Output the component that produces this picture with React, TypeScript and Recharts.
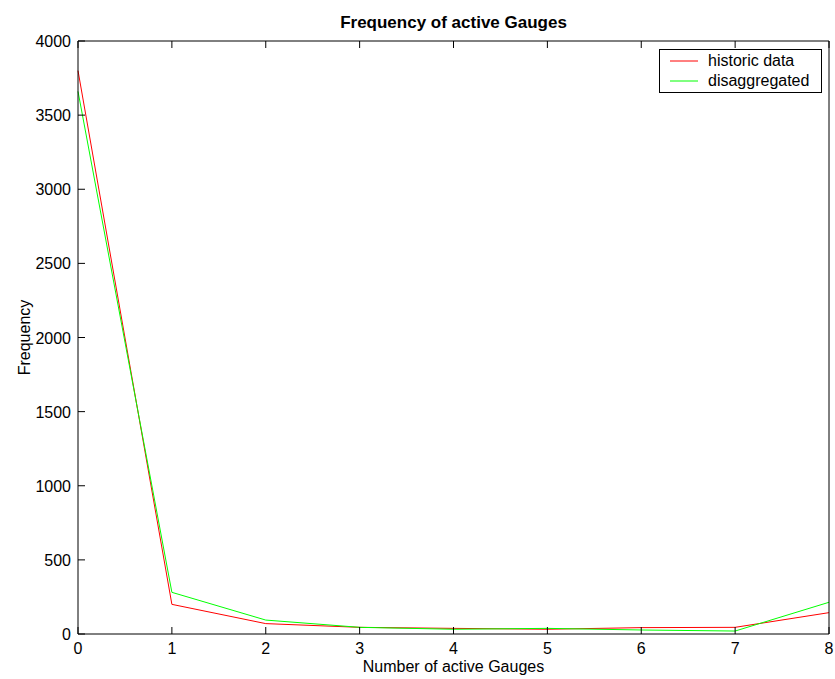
import { Legend, Line, LineChart, XAxis, YAxis } from "recharts";

const gauges = [0, 1, 2, 3, 4, 5, 6, 7, 8];
const historicData = [3800, 200, 70, 45, 38, 32, 43, 45, 144];
const disaggregated = [3660, 281, 94, 45, 32, 38, 27, 20, 214];
const xTicks = [0, 1, 2, 3, 4, 5, 6, 7, 8];
const yTicks = [0, 500, 1000, 1500, 2000, 2500, 3000, 3500, 4000];

const seriesInfo = [
  { key: "historic", name: "historic data", color: "#ff0000" },
  { key: "disagg", name: "disaggregated", color: "#00ff00" },
];

const rows = gauges.map((g, i) => ({
  gauges: g,
  historic: historicData[i],
  disagg: disaggregated[i],
}));

const FONT = "'Liberation Sans', Arial, Helvetica, sans-serif";
const TICK_LEN = 7;

// ticks point inwards, like the reference
const BottomTick = (props: any) => {
  const { x, y, payload } = props;
  return (
    <g>
      <line x1={x} y1={y} x2={x} y2={y - TICK_LEN} stroke="#000" />
      <text x={x} y={y + 20} textAnchor="middle" fontSize={16} fontFamily={FONT} fill="#000">
        {payload.value}
      </text>
    </g>
  );
};

const TopTick = (props: any) => {
  const { x, y } = props;
  return <line x1={x} y1={y} x2={x} y2={y + TICK_LEN} stroke="#000" />;
};

const LeftTick = (props: any) => {
  const { x, y, payload } = props;
  return (
    <g>
      <line x1={x} y1={y} x2={x + TICK_LEN} y2={y} stroke="#000" />
      <text x={x - 7} y={y} dy={6} textAnchor="end" fontSize={16} fontFamily={FONT} fill="#000">
        {payload.value}
      </text>
    </g>
  );
};

const RightTick = (props: any) => {
  const { x, y } = props;
  return <line x1={x} y1={y} x2={x - TICK_LEN} y2={y} stroke="#000" />;
};

const LegendBox = () => (
  <div
    style={{
      border: "1px solid #000",
      background: "#fff",
      padding: "1px 0 1px 10px",
      fontFamily: FONT,
      fontSize: 16,
      lineHeight: "20px",
      boxSizing: "border-box",
      width: 163,
    }}
  >
    {seriesInfo.map((s) => (
      <div key={s.key} style={{ display: "flex", alignItems: "center" }}>
        <svg width={38} height={20}>
          <line x1={0} y1={10} x2={28} y2={10} stroke={s.color} strokeWidth={1} />
        </svg>
        <span>{s.name}</span>
      </div>
    ))}
  </div>
);

const App = () => {
  return (
    <div style={{ position: "absolute", left: 0, top: 0, width: 835, height: 679, background: "#fff" }}>
      <div
        style={{
          position: "absolute",
          left: 78,
          width: 751,
          top: 13,
          textAlign: "center",
          fontFamily: FONT,
          fontWeight: "bold",
          fontSize: 17,
          lineHeight: "20px",
        }}
      >
        Frequency of active Gauges
      </div>
      <LineChart
        width={835}
        height={679}
        data={rows}
        margin={{ top: 40, right: 5, bottom: 0, left: 0 }}
      >
        <XAxis
          dataKey="gauges"
          type="number"
          domain={[0, 8]}
          ticks={xTicks}
          interval={0}
          height={45}
          tickSize={0}
          tickMargin={0}
          tickLine={false}
          axisLine={{ stroke: "#000" }}
          tick={<BottomTick />}
          label={{
            value: "Number of active Gauges",
            position: "insideBottom",
            offset: 7,
            fontSize: 16,
            fontFamily: FONT,
            fill: "#000",
          }}
        />
        <XAxis
          xAxisId="top"
          orientation="top"
          dataKey="gauges"
          type="number"
          domain={[0, 8]}
          ticks={xTicks}
          interval={0}
          height={1}
          tickSize={0}
          tickMargin={0}
          tickLine={false}
          axisLine={{ stroke: "#000" }}
          tick={<TopTick />}
        />
        <YAxis
          type="number"
          domain={[0, 4000]}
          ticks={yTicks}
          interval={0}
          width={78}
          tickSize={0}
          tickMargin={0}
          tickLine={false}
          axisLine={{ stroke: "#000" }}
          tick={<LeftTick />}
          label={{
            value: "Frequency",
            angle: -90,
            position: "insideLeft",
            content: (p: any) => {
              const vb = p.viewBox || { x: 0, y: 0, height: 0 };
              const cx = 24;
              const cy = vb.y + vb.height / 2;
              return (
                <text
                  x={cx}
                  y={cy}
                  transform={`rotate(-90, ${cx}, ${cy})`}
                  textAnchor="middle"
                  dy={6}
                  fontSize={16}
                  fontFamily={FONT}
                  fill="#000"
                >
                  Frequency
                </text>
              );
            },
          }}
        />
        <YAxis
          yAxisId="right"
          orientation="right"
          type="number"
          domain={[0, 4000]}
          ticks={yTicks}
          interval={0}
          width={1}
          tickSize={0}
          tickMargin={0}
          tickLine={false}
          axisLine={{ stroke: "#000" }}
          tick={<RightTick />}
        />
        <Legend
          layout="horizontal"
          verticalAlign="middle"
          align="center"
          wrapperStyle={{ top: 49, left: 659, width: 163, height: 43 }}
          content={<LegendBox />}
        />
        {seriesInfo.map((s) => (
          <Line
            key={s.key}
            type="linear"
            dataKey={s.key}
            name={s.name}
            stroke={s.color}
            strokeWidth={1}
            dot={false}
            activeDot={false}
            isAnimationActive={false}
          />
        ))}
      </LineChart>
    </div>
  );
};

export default App;
